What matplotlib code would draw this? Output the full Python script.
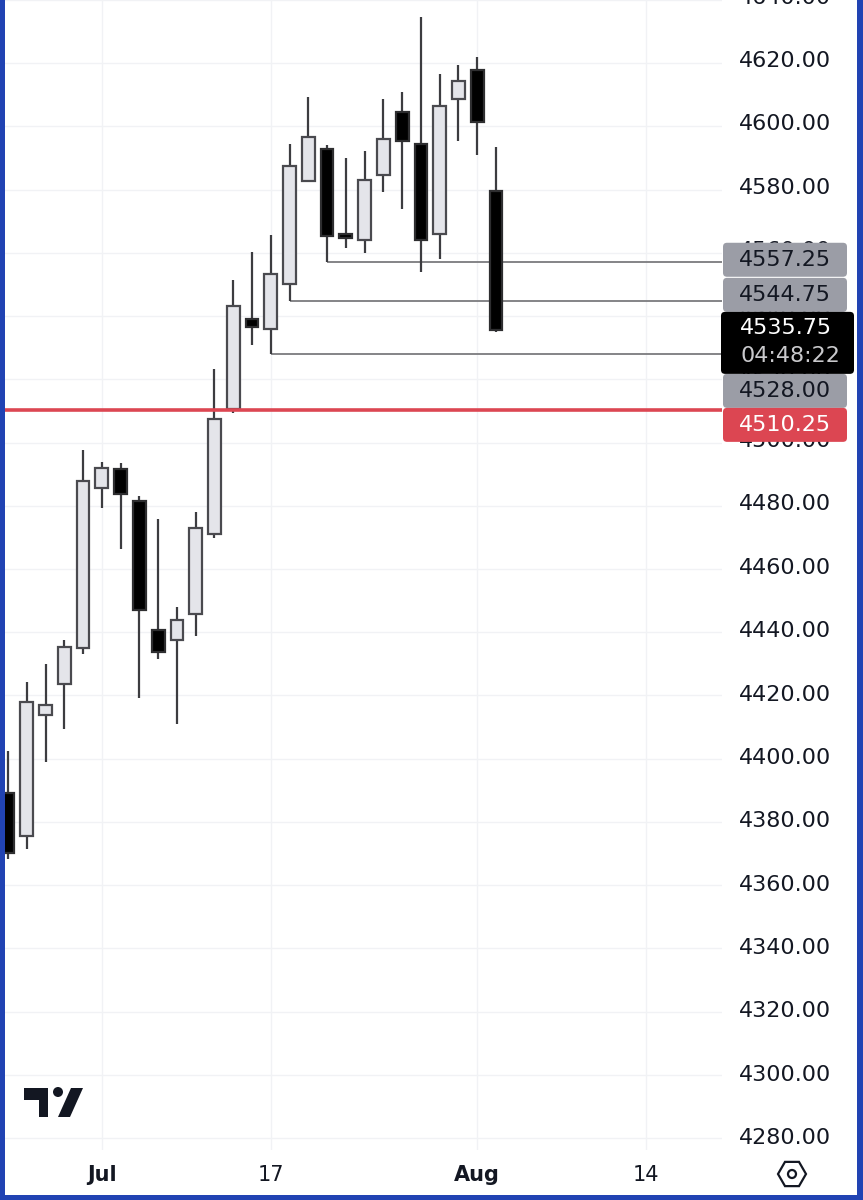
import matplotlib
matplotlib.use("Agg")
import matplotlib.pyplot as plt
from matplotlib.patches import FancyBboxPatch, Rectangle, Polygon, Circle, RegularPolygon

# Daily candles, Jun 26 .. Aug 2 (index 0 .. 26)
opens = [4389.2, 4375.6, 4413.8, 4423.6, 4435.0, 4485.5, 4491.5, 4481.4, 4440.7,
         4437.5, 4445.7, 4471.0, 4510.5, 4539.2, 4536.0, 4550.2, 4582.7, 4592.8,
         4566.0, 4564.1, 4584.6, 4604.5, 4594.4, 4566.0, 4608.6, 4617.8, 4579.6]
highs = [4402.5, 4424.3, 4429.9, 4437.5, 4497.8, 4493.7, 4493.4, 4483.0, 4475.7,
         4447.9, 4477.9, 4523.4, 4551.5, 4560.3, 4565.7, 4594.4, 4609.3, 4594.1,
         4590.0, 4592.2, 4608.6, 4610.8, 4634.5, 4616.5, 4619.4, 4621.9, 4593.5]
lows = [4368.4, 4371.5, 4399.0, 4409.4, 4433.1, 4479.2, 4466.3, 4419.2, 4431.5,
        4411.0, 4438.8, 4469.7, 4509.5, 4531.0, 4528.00, 4544.75, 4582.4, 4557.25,
        4561.6, 4560.0, 4579.3, 4573.9, 4554.0, 4558.1, 4595.4, 4591.0, 4535.1]
closes = [4370.0, 4418.0, 4417.0, 4435.3, 4487.7, 4491.8, 4483.6, 4447.0, 4433.7,
          4443.8, 4472.9, 4507.3, 4543.3, 4536.7, 4553.4, 4587.5, 4596.6, 4565.4,
          4564.8, 4583.1, 4596.0, 4595.4, 4564.1, 4606.4, 4614.3, 4601.4, 4535.75]

# horizontal lines drawn from a candle's low
line_levels = [4557.25, 4544.75, 4528.00]
line_from = [17, 15, 14]
red_level = 4510.25
last_price = 4535.75
countdown = "04:48:22"

tick_pos = [5, 14, 25, 34]
tick_labels = ["Jul", "17", "Aug", "14"]
bold_ticks = ["Jul", "Aug"]
price_ticks = list(range(4280, 4660, 20))

W, H = 863, 1200
fig = plt.figure(figsize=(W / 100, H / 100), dpi=100)
fig.patch.set_facecolor("white")

ymin, ymax = 4276.2, 4639.26
ax = fig.add_axes([5 / W, 50 / H, 717 / W, 1150 / H])
ax.set_xlim(-0.16, 38.04)
ax.set_ylim(ymin, ymax)
for s in ax.spines.values():
    s.set_visible(False)
ax.set_yticks(price_ticks)
ax.tick_params(axis="y", left=False, labelleft=False)
ax.set_xticks(tick_pos)
ax.set_xticklabels(tick_labels)
ax.tick_params(axis="x", length=0, pad=11, labelsize=15, labelcolor="#131722")
for lab in ax.get_xticklabels():
    if lab.get_text() in bold_ticks:
        lab.set_fontweight("bold")
ax.grid(True, color="#f1f2f5", lw=1.0)
ax.set_axisbelow(True)

# level lines
for lvl, i0 in zip(line_levels, line_from):
    ax.hlines(lvl, i0, 38.04, color="#7b7b7e", lw=1.3, zorder=2)

# candles
for i, (o, h, l, c) in enumerate(zip(opens, highs, lows, closes)):
    up = c >= o
    ax.vlines(i, l, h, color="#3c3c40", lw=1.6, zorder=3)
    ax.bar(i, c - o, bottom=o, width=0.68,
           color="#e4e5ea" if up else "black",
           edgecolor="#4a4a4f" if up else "#2e2e30",
           linewidth=1.6, zorder=4)

ax.axhline(red_level, color="#dc4652", lw=2.6, zorder=5)

# price scale (pane ends a little above the time axis)
ppu = 1150 / (ymax - ymin)          # pixels per price unit
axp = fig.add_axes([722 / W, 53 / H, 135 / W, 1147 / H])
axp.set_xlim(722, 857)
axp.set_ylim(ymin + 3 / ppu, ymax)
axp.axis("off")
for p in price_ticks:
    axp.text(739, p, f"{p:.2f}", ha="left", va="center", fontsize=16,
             color="#131722", clip_on=True, zorder=1)

bh = 34 / ppu                        # label box height
black_top = last_price + 16 / ppu
black_bot = black_top - 62 / ppu

# stack labels above / below the last-price label
boxes = []
prev_top = black_top
for lvl in sorted([v for v in line_levels if v > last_price]):
    bot = max(lvl - bh / 2, prev_top)
    boxes.append((lvl, bot, "#9b9da6", "#131722"))
    prev_top = bot + bh
prev_bot = black_bot
for lvl, fc, tc in sorted([(v, "#9b9da6", "#131722") for v in line_levels if v < last_price]
                          + [(red_level, "#dc4652", "white")], reverse=True):
    top = min(lvl + bh / 2, prev_bot)
    boxes.append((lvl, top - bh, fc, tc))
    prev_bot = top - bh

asp = 1 / ppu
for lvl, bot, fc, tc in boxes:
    axp.add_patch(FancyBboxPatch((723, bot), 124, bh,
                                 boxstyle="round,pad=0,rounding_size=4",
                                 mutation_aspect=asp, fc=fc, ec="none",
                                 zorder=3, clip_on=False))
    axp.text(739, bot + bh / 2, f"{lvl:.2f}", ha="left", va="center",
             fontsize=16, color=tc, zorder=4)

axp.add_patch(FancyBboxPatch((721, black_bot), 133, black_top - black_bot,
                             boxstyle="round,pad=0,rounding_size=4",
                             mutation_aspect=asp, fc="black", ec="none",
                             zorder=3, clip_on=False))
axp.text(740, last_price, f"{last_price:.2f}", ha="left", va="center",
         fontsize=16, color="white", zorder=4)
axp.text(740, last_price - 28 / ppu, countdown, ha="left", va="center",
         fontsize=16, color="#c9c9cc", zorder=4)

# overlay: logo, settings icon, frame
ov = fig.add_axes([0, 0, 1, 1])
ov.set_xlim(0, W)
ov.set_ylim(H, 0)
ov.axis("off")
ov.patch.set_alpha(0)
navy = "#131722"
ov.add_patch(Polygon([(24, 1088), (48, 1088), (48, 1117), (39, 1117), (39, 1100), (24, 1100)],
                     closed=True, fc=navy, ec="none"))
ov.add_patch(Circle((58, 1092), 5, fc=navy, ec="none"))
ov.add_patch(Polygon([(71, 1088), (83, 1088), (70, 1117), (58, 1117)], closed=True,
                     fc=navy, ec="none"))
ov.add_patch(RegularPolygon((792, 1174), 6, radius=14, orientation=3.14159 / 6,
                            fc="none", ec=navy, lw=1.6))
ov.add_patch(Circle((792, 1174), 4, fc="none", ec=navy, lw=1.6))
blue = "#2143b3"
ov.add_patch(Rectangle((0, 0), 4.5, H, fc=blue, ec="none"))
ov.add_patch(Rectangle((857, 0), 6, H, fc=blue, ec="none"))
ov.add_patch(Rectangle((0, 1195), W, 5, fc=blue, ec="none"))

fig.savefig("out.png", dpi=100)
